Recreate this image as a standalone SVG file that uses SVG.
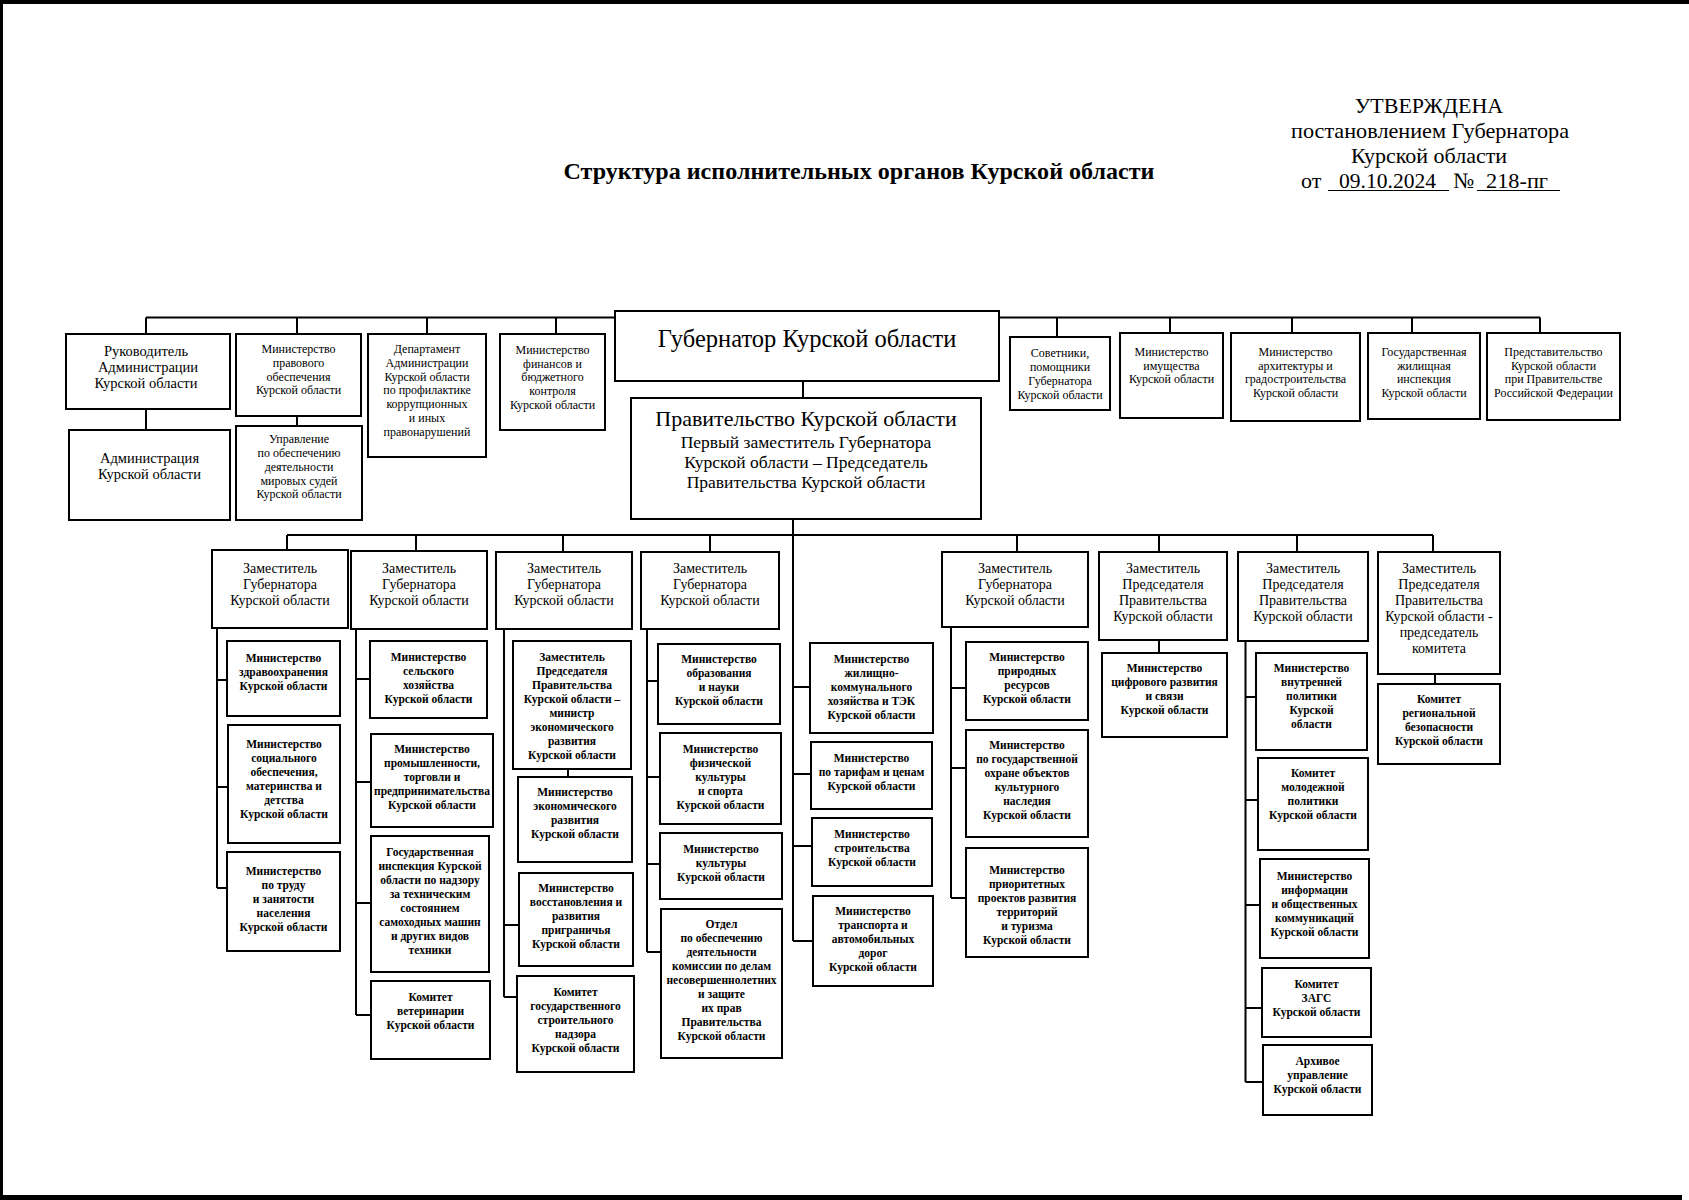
<svg xmlns="http://www.w3.org/2000/svg" width="1689" height="1200" viewBox="0 0 1689 1200">
<style>
.bg{fill:#fff}
.scan{fill:#000}
.box{fill:#fff;stroke:#000;stroke-width:2}
.c{stroke:#000;stroke-width:2;fill:none}
text{font-family:"Liberation Serif","Times New Roman",serif;fill:#000;text-anchor:middle}
.t1{font-size:12px}
.t1b{font-size:14.5px}
.t2{font-size:14px}
.t3{font-size:11.5px;font-weight:bold}
.gov{font-size:24.5px}
.pr1{font-size:22px}
.pr2{font-size:17.5px}
.title{font-size:24px;font-weight:bold}
.hdr{font-size:22px}
.hl{text-anchor:start}
</style>
<rect class="bg" x="0" y="0" width="1689" height="1200"/>
<rect class="scan" x="0" y="0" width="1689" height="4"/>
<rect class="scan" x="0" y="0" width="3" height="1200"/>
<rect class="scan" x="0" y="1195" width="1682" height="5"/>

<g id="header">
<text class="title" x="859" y="179" textLength="591" lengthAdjust="spacingAndGlyphs">Структура исполнительных органов Курской области</text>
<text class="hdr" x="1429" y="113">УТВЕРЖДЕНА</text>
<text class="hdr" x="1430" y="138" textLength="278" lengthAdjust="spacingAndGlyphs">постановлением Губернатора</text>
<text class="hdr" x="1429" y="163">Курской области</text>
<text class="hdr hl" x="1301" y="188">от</text>
<text class="hdr hl" x="1339" y="188" textLength="97" lengthAdjust="spacingAndGlyphs">09.10.2024</text>
<text class="hdr hl" x="1453" y="188">№</text>
<text class="hdr hl" x="1486" y="188" textLength="62" lengthAdjust="spacingAndGlyphs">218-пг</text>
<line class="c" x1="1328" y1="190.5" x2="1449" y2="190.5" style="stroke-width:1.2"/>
<line class="c" x1="1477" y1="190.5" x2="1560" y2="190.5" style="stroke-width:1.2"/>
</g>

<g id="connectors">
<path class="c" d="M146,317.5H1540 M146,317.5V334 M297,317.5V334 M427,317.5V334 M556,317.5V334 M1057,317.5V337 M1170,317.5V333 M1292,317.5V333 M1412,317.5V333 M1540,317.5V333"/>
<path class="c" d="M146,409V430 M297,416V426 M803,381V398"/>
<path class="c" d="M287,535H1433 M287,535V550 M416,535V551 M563,535V552 M710,535V552 M1017,535V552 M1159,535V552 M1297,535V552 M1433,535V552"/>
<path class="c" d="M793,519V941"/>
<path class="c" d="M217,628V888 M217,680H227 M217,787H228 M217,888H227"/>
<path class="c" d="M356,629V1015 M356,679H370 M356,782H371 M356,903H371 M356,1015H371"/>
<path class="c" d="M504,629V997 M504,925H519 M504,997H517 M568,769V777"/>
<path class="c" d="M647,629V952 M647,681H658 M647,777H660 M647,864H660 M647,952H661"/>
<path class="c" d="M793,687H810 M793,774H811 M793,846H812 M793,941H813"/>
<path class="c" d="M951,627V898 M951,688H966 M951,768H966 M951,898H966"/>
<path class="c" d="M1159,640V653"/>
<path class="c" d="M1245.5,641V1082 M1245.5,697H1256 M1245.5,800H1258 M1245.5,905H1260 M1245.5,1008H1262 M1245.5,1082H1263"/>
<path class="c" d="M1435,674V684"/>
</g>

<g id="n-rukovoditel"><rect class="box" x="66" y="334" width="164" height="75"/>
<text class="t1b"><tspan x="146" y="356">Руководитель</tspan><tspan x="148" y="372">Администрации</tspan><tspan x="146" y="388">Курской области</tspan></text></g>
<g id="n-administraciya"><rect class="box" x="69" y="430" width="161" height="90"/>
<text class="t1b"><tspan x="149.5" y="463">Администрация</tspan><tspan x="149.5" y="479">Курской области</tspan></text></g>
<g id="n-pravovoe"><rect class="box" x="236" y="334" width="125" height="82"/>
<text class="t1"><tspan x="298.5" y="353">Министерство</tspan><tspan x="298.5" y="367">правового</tspan><tspan x="298.5" y="381">обеспечения</tspan><tspan x="298.5" y="394">Курской области</tspan></text></g>
<g id="n-upravlenie"><rect class="box" x="236" y="426" width="126" height="94"/>
<text class="t1"><tspan x="299" y="443">Управление</tspan><tspan x="299" y="457">по обеспечению</tspan><tspan x="299" y="471">деятельности</tspan><tspan x="299" y="485">мировых судей</tspan><tspan x="299" y="498">Курской области</tspan></text></g>
<g id="n-departament"><rect class="box" x="368" y="334" width="118" height="123"/>
<text class="t1"><tspan x="427" y="353">Департамент</tspan><tspan x="427" y="367">Администрации</tspan><tspan x="427" y="381">Курской области</tspan><tspan x="427" y="394">по профилактике</tspan><tspan x="427" y="408">коррупционных</tspan><tspan x="427" y="422">и иных</tspan><tspan x="427" y="436">правонарушений</tspan></text></g>
<g id="n-finansy"><rect class="box" x="500" y="334" width="105" height="96"/>
<text class="t1"><tspan x="552.5" y="354">Министерство</tspan><tspan x="552.5" y="368">финансов и</tspan><tspan x="552.5" y="381">бюджетного</tspan><tspan x="552.5" y="395">контроля</tspan><tspan x="552.5" y="409">Курской области</tspan></text></g>
<g id="n-gubernator"><rect class="box" x="615" y="311" width="384" height="70"/>
<text class="gov" x="807" y="347">Губернатор Курской области</text></g>
<g id="n-pravitelstvo"><rect class="box" x="631" y="398" width="350" height="121"/>
<text><tspan class="pr1" x="806" y="426">Правительство Курской области</tspan><tspan class="pr2" x="806" y="448">Первый заместитель Губернатора</tspan><tspan class="pr2" x="806" y="468">Курской области – Председатель</tspan><tspan class="pr2" x="806" y="488">Правительства Курской области</tspan></text></g>
<g id="n-sovetniki"><rect class="box" x="1010" y="337" width="100" height="73"/>
<text class="t1"><tspan x="1060" y="357">Советники,</tspan><tspan x="1060" y="371">помощники</tspan><tspan x="1060" y="385">Губернатора</tspan><tspan x="1060" y="399">Курской области</tspan></text></g>
<g id="n-imushchestvo"><rect class="box" x="1120" y="333" width="103" height="85"/>
<text class="t1"><tspan x="1171.5" y="356">Министерство</tspan><tspan x="1171.5" y="369.5">имущества</tspan><tspan x="1171.5" y="383">Курской области</tspan></text></g>
<g id="n-arhitektura"><rect class="box" x="1231" y="333" width="129" height="88"/>
<text class="t1"><tspan x="1295.5" y="356">Министерство</tspan><tspan x="1295.5" y="369.5">архитектуры и</tspan><tspan x="1295.5" y="383">градостроительства</tspan><tspan x="1295.5" y="396.5">Курской области</tspan></text></g>
<g id="n-gzhi"><rect class="box" x="1368" y="333" width="112" height="86"/>
<text class="t1"><tspan x="1424" y="356">Государственная</tspan><tspan x="1424" y="369.5">жилищная</tspan><tspan x="1424" y="383">инспекция</tspan><tspan x="1424" y="396.5">Курской области</tspan></text></g>
<g id="n-predstavitelstvo"><rect class="box" x="1487" y="333" width="133" height="87"/>
<text class="t1"><tspan x="1553.5" y="356">Представительство</tspan><tspan x="1553.5" y="369.5">Курской области</tspan><tspan x="1553.5" y="383">при Правительстве</tspan><tspan x="1553.5" y="396.5">Российской Федерации</tspan></text></g>

<g id="n-zam1"><rect class="box" x="212" y="550" width="136" height="78"/>
<text class="t2"><tspan x="280" y="573">Заместитель</tspan><tspan x="280" y="589">Губернатора</tspan><tspan x="280" y="605">Курской области</tspan></text></g>
<g id="n-zam2"><rect class="box" x="351" y="551" width="136" height="78"/>
<text class="t2"><tspan x="419" y="573">Заместитель</tspan><tspan x="419" y="589">Губернатора</tspan><tspan x="419" y="605">Курской области</tspan></text></g>
<g id="n-zam3"><rect class="box" x="496" y="552" width="136" height="77"/>
<text class="t2"><tspan x="564" y="573">Заместитель</tspan><tspan x="564" y="589">Губернатора</tspan><tspan x="564" y="605">Курской области</tspan></text></g>
<g id="n-zam4"><rect class="box" x="641" y="552" width="138" height="77"/>
<text class="t2"><tspan x="710" y="573">Заместитель</tspan><tspan x="710" y="589">Губернатора</tspan><tspan x="710" y="605">Курской области</tspan></text></g>
<g id="n-zam5"><rect class="box" x="942" y="552" width="146" height="75"/>
<text class="t2"><tspan x="1015" y="573">Заместитель</tspan><tspan x="1015" y="589">Губернатора</tspan><tspan x="1015" y="605">Курской области</tspan></text></g>
<g id="n-zam6"><rect class="box" x="1099" y="552" width="128" height="88"/>
<text class="t2"><tspan x="1163" y="573">Заместитель</tspan><tspan x="1163" y="589">Председателя</tspan><tspan x="1163" y="605">Правительства</tspan><tspan x="1163" y="621">Курской области</tspan></text></g>
<g id="n-zam7"><rect class="box" x="1238" y="552" width="130" height="89"/>
<text class="t2"><tspan x="1303" y="573">Заместитель</tspan><tspan x="1303" y="589">Председателя</tspan><tspan x="1303" y="605">Правительства</tspan><tspan x="1303" y="621">Курской области</tspan></text></g>
<g id="n-zam8"><rect class="box" x="1378" y="552" width="122" height="122"/>
<text class="t2"><tspan x="1439" y="573">Заместитель</tspan><tspan x="1439" y="589">Председателя</tspan><tspan x="1439" y="605">Правительства</tspan><tspan x="1439" y="621">Курской области -</tspan><tspan x="1439" y="637">председатель</tspan><tspan x="1439" y="653">комитета</tspan></text></g>

<g id="n-zdrav"><rect class="box" x="227" y="641" width="113" height="75"/>
<text class="t3"><tspan x="283.5" y="662">Министерство</tspan><tspan x="283.5" y="676">здравоохранения</tspan><tspan x="283.5" y="690">Курской области</tspan></text></g>
<g id="n-soc"><rect class="box" x="228" y="725" width="112" height="118"/>
<text class="t3"><tspan x="284" y="748">Министерство</tspan><tspan x="284" y="762">социального</tspan><tspan x="284" y="776">обеспечения,</tspan><tspan x="284" y="790">материнства и</tspan><tspan x="284" y="804">детства</tspan><tspan x="284" y="818">Курской области</tspan></text></g>
<g id="n-trud"><rect class="box" x="227" y="852" width="113" height="99"/>
<text class="t3"><tspan x="283.5" y="875">Министерство</tspan><tspan x="283.5" y="889">по труду</tspan><tspan x="283.5" y="903">и занятости</tspan><tspan x="283.5" y="917">населения</tspan><tspan x="283.5" y="931">Курской области</tspan></text></g>

<g id="n-selhoz"><rect class="box" x="370" y="641" width="117" height="77"/>
<text class="t3"><tspan x="428.5" y="661">Министерство</tspan><tspan x="428.5" y="675">сельского</tspan><tspan x="428.5" y="689">хозяйства</tspan><tspan x="428.5" y="703">Курской области</tspan></text></g>
<g id="n-prom"><rect class="box" x="371" y="734" width="122" height="93"/>
<text class="t3"><tspan x="432" y="753">Министерство</tspan><tspan x="432" y="767">промышленности,</tspan><tspan x="432" y="781">торговли и</tspan><tspan x="432" y="795">предпринимательства</tspan><tspan x="432" y="809">Курской области</tspan></text></g>
<g id="n-gostehnadzor"><rect class="box" x="371" y="836" width="118" height="136"/>
<text class="t3"><tspan x="430" y="856">Государственная</tspan><tspan x="430" y="870">инспекция Курской</tspan><tspan x="430" y="884">области по надзору</tspan><tspan x="430" y="898">за техническим</tspan><tspan x="430" y="912">состоянием</tspan><tspan x="430" y="926">самоходных машин</tspan><tspan x="430" y="940">и других видов</tspan><tspan x="430" y="954">техники</tspan></text></g>
<g id="n-veterinariya"><rect class="box" x="371" y="981" width="119" height="78"/>
<text class="t3"><tspan x="430.5" y="1001">Комитет</tspan><tspan x="430.5" y="1015">ветеринарии</tspan><tspan x="430.5" y="1029">Курской области</tspan></text></g>

<g id="n-zampred-econ"><rect class="box" x="513" y="641" width="118" height="128"/>
<text class="t3"><tspan x="572" y="661">Заместитель</tspan><tspan x="572" y="675">Председателя</tspan><tspan x="572" y="689">Правительства</tspan><tspan x="572" y="703">Курской области –</tspan><tspan x="572" y="717">министр</tspan><tspan x="572" y="731">экономического</tspan><tspan x="572" y="745">развития</tspan><tspan x="572" y="759">Курской области</tspan></text></g>
<g id="n-econ"><rect class="box" x="518" y="777" width="114" height="85"/>
<text class="t3"><tspan x="575" y="796">Министерство</tspan><tspan x="575" y="810">экономического</tspan><tspan x="575" y="824">развития</tspan><tspan x="575" y="838">Курской области</tspan></text></g>
<g id="n-vosstanovlenie"><rect class="box" x="519" y="873" width="114" height="93"/>
<text class="t3"><tspan x="576" y="892">Министерство</tspan><tspan x="576" y="906">восстановления и</tspan><tspan x="576" y="920">развития</tspan><tspan x="576" y="934">приграничья</tspan><tspan x="576" y="948">Курской области</tspan></text></g>
<g id="n-gosstroynadzor"><rect class="box" x="517" y="976" width="117" height="96"/>
<text class="t3"><tspan x="575.5" y="996">Комитет</tspan><tspan x="575.5" y="1010">государственного</tspan><tspan x="575.5" y="1024">строительного</tspan><tspan x="575.5" y="1038">надзора</tspan><tspan x="575.5" y="1052">Курской области</tspan></text></g>

<g id="n-obrazovanie"><rect class="box" x="658" y="644" width="122" height="80"/>
<text class="t3"><tspan x="719" y="663">Министерство</tspan><tspan x="719" y="677">образования</tspan><tspan x="719" y="691">и науки</tspan><tspan x="719" y="705">Курской области</tspan></text></g>
<g id="n-sport"><rect class="box" x="660" y="733" width="121" height="91"/>
<text class="t3"><tspan x="720.5" y="753">Министерство</tspan><tspan x="720.5" y="767">физической</tspan><tspan x="720.5" y="781">культуры</tspan><tspan x="720.5" y="795">и спорта</tspan><tspan x="720.5" y="809">Курской области</tspan></text></g>
<g id="n-kultura"><rect class="box" x="660" y="833" width="122" height="66"/>
<text class="t3"><tspan x="721" y="853">Министерство</tspan><tspan x="721" y="867">культуры</tspan><tspan x="721" y="881">Курской области</tspan></text></g>
<g id="n-kdn"><rect class="box" x="661" y="909" width="121" height="149"/>
<text class="t3"><tspan x="721.5" y="928">Отдел</tspan><tspan x="721.5" y="942">по обеспечению</tspan><tspan x="721.5" y="956">деятельности</tspan><tspan x="721.5" y="970">комиссии по делам</tspan><tspan x="721.5" y="984">несовершеннолетних</tspan><tspan x="721.5" y="998">и защите</tspan><tspan x="721.5" y="1012">их прав</tspan><tspan x="721.5" y="1026">Правительства</tspan><tspan x="721.5" y="1040">Курской области</tspan></text></g>

<g id="n-zhkh"><rect class="box" x="810" y="643" width="123" height="90"/>
<text class="t3"><tspan x="871.5" y="663">Министерство</tspan><tspan x="871.5" y="677">жилищно-</tspan><tspan x="871.5" y="691">коммунального</tspan><tspan x="871.5" y="705">хозяйства и ТЭК</tspan><tspan x="871.5" y="719">Курской области</tspan></text></g>
<g id="n-tarify"><rect class="box" x="811" y="742" width="121" height="67"/>
<text class="t3"><tspan x="871.5" y="762">Министерство</tspan><tspan x="871.5" y="776">по тарифам и ценам</tspan><tspan x="871.5" y="790">Курской области</tspan></text></g>
<g id="n-stroitelstvo"><rect class="box" x="812" y="818" width="120" height="68"/>
<text class="t3"><tspan x="872" y="838">Министерство</tspan><tspan x="872" y="852">строительства</tspan><tspan x="872" y="866">Курской области</tspan></text></g>
<g id="n-transport"><rect class="box" x="813" y="896" width="120" height="90"/>
<text class="t3"><tspan x="873" y="915">Министерство</tspan><tspan x="873" y="929">транспорта и</tspan><tspan x="873" y="943">автомобильных</tspan><tspan x="873" y="957">дорог</tspan><tspan x="873" y="971">Курской области</tspan></text></g>

<g id="n-prirodnye"><rect class="box" x="966" y="642" width="122" height="78"/>
<text class="t3"><tspan x="1027" y="661">Министерство</tspan><tspan x="1027" y="675">природных</tspan><tspan x="1027" y="689">ресурсов</tspan><tspan x="1027" y="703">Курской области</tspan></text></g>
<g id="n-okn"><rect class="box" x="966" y="730" width="122" height="107"/>
<text class="t3"><tspan x="1027" y="749">Министерство</tspan><tspan x="1027" y="763">по государственной</tspan><tspan x="1027" y="777">охране объектов</tspan><tspan x="1027" y="791">культурного</tspan><tspan x="1027" y="805">наследия</tspan><tspan x="1027" y="819">Курской области</tspan></text></g>
<g id="n-prioritet"><rect class="box" x="966" y="848" width="122" height="109"/>
<text class="t3"><tspan x="1027" y="874">Министерство</tspan><tspan x="1027" y="888">приоритетных</tspan><tspan x="1027" y="902">проектов развития</tspan><tspan x="1027" y="916">территорий</tspan><tspan x="1027" y="930">и туризма</tspan><tspan x="1027" y="944">Курской области</tspan></text></g>

<g id="n-cifra"><rect class="box" x="1102" y="653" width="125" height="84"/>
<text class="t3"><tspan x="1164.5" y="672">Министерство</tspan><tspan x="1164.5" y="686">цифрового развития</tspan><tspan x="1164.5" y="700">и связи</tspan><tspan x="1164.5" y="714">Курской области</tspan></text></g>

<g id="n-vnutr"><rect class="box" x="1256" y="653" width="111" height="97"/>
<text class="t3"><tspan x="1311.5" y="672">Министерство</tspan><tspan x="1311.5" y="686">внутренней</tspan><tspan x="1311.5" y="700">политики</tspan><tspan x="1311.5" y="714">Курской</tspan><tspan x="1311.5" y="728">области</tspan></text></g>
<g id="n-molodezh"><rect class="box" x="1258" y="758" width="110" height="92"/>
<text class="t3"><tspan x="1313" y="777">Комитет</tspan><tspan x="1313" y="791">молодежной</tspan><tspan x="1313" y="805">политики</tspan><tspan x="1313" y="819">Курской области</tspan></text></g>
<g id="n-inform"><rect class="box" x="1260" y="859" width="109" height="99"/>
<text class="t3"><tspan x="1314.5" y="880">Министерство</tspan><tspan x="1314.5" y="894">информации</tspan><tspan x="1314.5" y="908">и общественных</tspan><tspan x="1314.5" y="922">коммуникаций</tspan><tspan x="1314.5" y="936">Курской области</tspan></text></g>
<g id="n-zags"><rect class="box" x="1262" y="968" width="109" height="69"/>
<text class="t3"><tspan x="1316.5" y="988">Комитет</tspan><tspan x="1316.5" y="1002">ЗАГС</tspan><tspan x="1316.5" y="1016">Курской области</tspan></text></g>
<g id="n-arhiv"><rect class="box" x="1263" y="1045" width="109" height="70"/>
<text class="t3"><tspan x="1317.5" y="1065">Архивое</tspan><tspan x="1317.5" y="1079">управление</tspan><tspan x="1317.5" y="1093">Курской области</tspan></text></g>

<g id="n-bezopasnost"><rect class="box" x="1378" y="684" width="122" height="80"/>
<text class="t3"><tspan x="1439" y="703">Комитет</tspan><tspan x="1439" y="717">региональной</tspan><tspan x="1439" y="731">безопасности</tspan><tspan x="1439" y="745">Курской области</tspan></text></g>
</svg>
